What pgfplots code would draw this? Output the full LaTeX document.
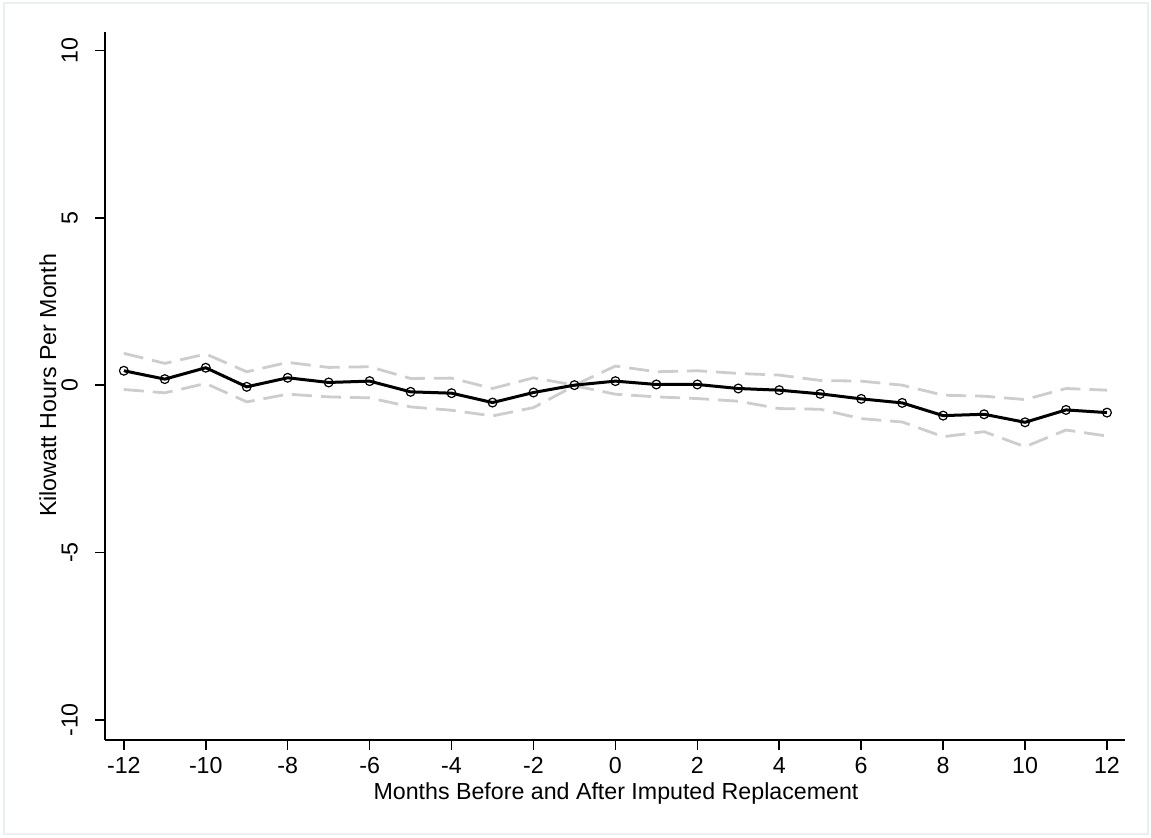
\documentclass[border=0pt]{standalone}
\usepackage{pgfplots}
\pgfplotsset{compat=1.18}
\usepackage{fontspec}
\setmainfont{Liberation Sans}
\definecolor{ciGray}{RGB}{205,205,205}
\definecolor{frameGray}{RGB}{234,240,242}

\pgfplotstableread{
m   b      lo     hi
-12  0.43  -0.13   0.95
-11  0.18  -0.23   0.65
-10  0.52   0.05   0.93
-9  -0.05  -0.50   0.40
-8   0.22  -0.27   0.68
-7   0.08  -0.35   0.53
-6   0.12  -0.38   0.55
-5  -0.20  -0.65   0.20
-4  -0.24  -0.75   0.21
-3  -0.52  -0.92  -0.10
-2  -0.22  -0.67   0.22
-1   0.00  -0.02   0.00
0    0.12  -0.27   0.57
1    0.02  -0.35   0.40
2    0.02  -0.40   0.43
3   -0.10  -0.48   0.35
4   -0.15  -0.70   0.30
5   -0.26  -0.72   0.14
6   -0.41  -1.00   0.12
7   -0.53  -1.10   0.00
8   -0.91  -1.54  -0.30
9   -0.87  -1.39  -0.33
10  -1.11  -1.84  -0.43
11  -0.74  -1.34  -0.10
12  -0.82  -1.52  -0.15
}\coefs

\begin{document}
\begin{tikzpicture}
\useasboundingbox (-52.5pt,-49pt) rectangle (523pt,370pt);
\draw[frameGray, line width=0.8pt] (-50.5pt,-47pt) rectangle (521.5pt,368.5pt);
\begin{axis}[
    at={(0,0)}, anchor=south west,
    scale only axis, width=510pt, height=354pt,
    xmin=-12.46, xmax=12.44, ymin=-10.6, ymax=10.55,
    axis lines*=left, axis line style={line width=1pt},
    tick align=outside, major tick length=5pt,
    every tick/.style={black, line width=0.8pt},
    xtick={-12,-10,...,12}, ytick={-10,-5,0,5,10},
    tick label style={font=\fontsize{11.6}{14}\selectfont},
    /pgf/number format/assume math mode=true,
    yticklabel style={rotate=90, anchor=south},
    yticklabel shift=5pt,
    xlabel={Months Before and After Imputed Replacement},
    ylabel={Kilowatt Hours Per Month},
    label style={font=\fontsize{11.6}{14}\selectfont},
    xlabel style={at={(axis description cs:0.501,-0.075)}, anchor=center},
    ylabel style={at={(axis description cs:-0.056,0.501)}, anchor=center},
]
\addplot[ciGray, line width=1.4pt, dash pattern=on 10pt off 4.5pt] table[x=m, y=hi] {\coefs};
\addplot[ciGray, line width=1.4pt, dash pattern=on 10pt off 4.5pt] table[x=m, y=lo] {\coefs};
\addplot[black, line width=1.5pt, mark=o, mark size=2.2pt, mark options={line width=0.6pt}] table[x=m, y=b] {\coefs};
\end{axis}
\end{tikzpicture}
\end{document}
